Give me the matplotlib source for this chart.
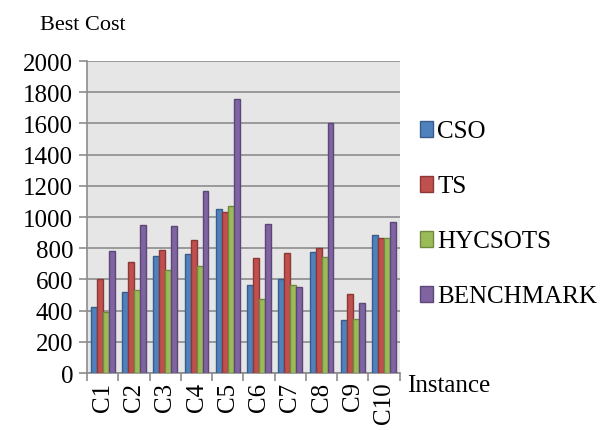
import numpy as np
import matplotlib.pyplot as plt

plt.rcParams['font.family'] = ['Liberation Serif', 'DejaVu Serif']

instances = ['C1', 'C2', 'C3', 'C4', 'C5', 'C6', 'C7', 'C8', 'C9', 'C10']
cso = [425, 520, 750, 765, 1050, 565, 600, 775, 340, 885]
ts = [605, 710, 790, 850, 1030, 735, 770, 800, 505, 865]
hycsots = [390, 535, 660, 685, 1070, 475, 565, 745, 350, 865]
benchmark = [785, 950, 945, 1165, 1760, 955, 550, 1600, 450, 970]

series = [('CSO', cso, '#4F81BD', '#385D8A'),
          ('TS', ts, '#C0504D', '#8C3836'),
          ('HYCSOTS', hycsots, '#9BBB59', '#71893F'),
          ('BENCHMARK', benchmark, '#8064A2', '#5C4776')]

fig = plt.figure(figsize=(6.14, 4.31), dpi=100)
ax = fig.add_axes([0.142, 0.132, 0.509, 0.724])
ax.set_facecolor('#E6E6E6')

x = np.arange(len(instances))
w = 0.19
for i, (name, vals, col, edge) in enumerate(series):
    ax.bar(x + (i - 1.5) * w, vals, w, color=col, edgecolor=edge,
           linewidth=1, label=name, zorder=3)

ax.set_xlim(-0.5, len(instances) - 0.5)
ax.set_ylim(0, 2000)
ax.set_yticks(range(0, 2001, 200))
ax.yaxis.grid(True, color='#8C8C8C', linewidth=1.2, zorder=0)
ax.set_xticks(x)
ax.set_xticklabels(instances, rotation=90)
ax.set_xticks(np.arange(-0.5, len(instances)), minor=True)
ax.tick_params(axis='x', which='major', length=0, pad=6, labelsize=18)
ax.tick_params(axis='x', which='minor', length=6, color='#8C8C8C', width=1.2)
ax.tick_params(axis='y', length=6, color='#8C8C8C', width=1.2, labelsize=18,
               direction='out', pad=4)
for side in ['top', 'right']:
    ax.spines[side].set_visible(False)
for side in ['left', 'bottom']:
    ax.spines[side].set_color('#8C8C8C')
    ax.spines[side].set_linewidth(1.2)

fig.text(0.065, 0.93, 'Best Cost', fontsize=16)
fig.text(0.663, 0.09, 'Instance', fontsize=18)

ax.legend(loc='center left', bbox_to_anchor=(1.0, 0.51), frameon=False,
          fontsize=18, handlelength=0.55, handleheight=0.6, labelspacing=1.32,
          handletextpad=0.15, borderaxespad=0.4)

fig.savefig('out.png', dpi=100)
